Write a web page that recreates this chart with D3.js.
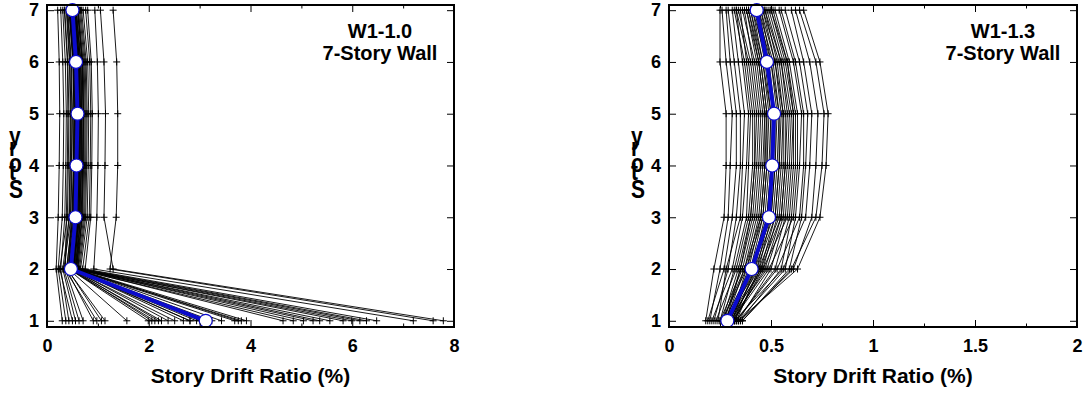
<!DOCTYPE html>
<html>
<head>
<meta charset="utf-8">
<script src="https://cdn.jsdelivr.net/npm/d3@7"></script>
<style>
  body { margin: 0; background: #fff; }
  text { font-family: "Liberation Sans", Arial, sans-serif; font-weight: bold; }
</style>
</head>
<body>
<div id="container"></div>
<script>
// Dimensions
const width = 1086,
  height = 393;

// Story levels (1 = ground story)
const stories = [1, 2, 3, 4, 5, 6, 7];

// W1-1.0 records: drift ratio (%) per story [s1..s7]
const leftRecords = [
  [0.30, 0.18, 0.22, 0.24, 0.25, 0.24, 0.21],
  [0.37, 0.22, 0.30, 0.32, 0.33, 0.31, 0.27],
  [0.43, 0.27, 0.35, 0.37, 0.38, 0.36, 0.31],
  [0.50, 0.25, 0.40, 0.42, 0.43, 0.41, 0.35],
  [0.56, 0.31, 0.44, 0.46, 0.47, 0.45, 0.39],
  [0.63, 0.33, 0.47, 0.49, 0.50, 0.48, 0.41],
  [0.71, 0.36, 0.38, 0.40, 0.41, 0.40, 0.34],
  [0.91, 0.38, 0.51, 0.53, 0.54, 0.52, 0.44],
  [0.98, 0.35, 0.43, 0.45, 0.46, 0.44, 0.38],
  [1.07, 0.40, 0.53, 0.55, 0.56, 0.54, 0.46],
  [1.14, 0.39, 0.49, 0.52, 0.53, 0.51, 0.43],
  [1.57, 0.42, 0.55, 0.57, 0.58, 0.56, 0.48],
  [1.99, 0.44, 0.46, 0.48, 0.49, 0.47, 0.40],
  [2.06, 0.46, 0.57, 0.59, 0.60, 0.58, 0.50],
  [2.12, 0.43, 0.50, 0.52, 0.53, 0.51, 0.44],
  [2.19, 0.48, 0.59, 0.61, 0.62, 0.60, 0.52],
  [2.25, 0.45, 0.53, 0.55, 0.56, 0.54, 0.46],
  [2.38, 0.49, 0.60, 0.62, 0.63, 0.61, 0.53],
  [2.51, 0.47, 0.54, 0.56, 0.57, 0.55, 0.47],
  [2.68, 0.51, 0.62, 0.64, 0.65, 0.63, 0.55],
  [2.81, 0.48, 0.52, 0.54, 0.55, 0.53, 0.45],
  [2.81, 0.52, 0.63, 0.65, 0.66, 0.64, 0.56],
  [2.94, 0.50, 0.56, 0.58, 0.59, 0.57, 0.49],
  [3.01, 0.53, 0.64, 0.67, 0.68, 0.66, 0.57],
  [3.24, 0.51, 0.58, 0.60, 0.61, 0.59, 0.51],
  [3.43, 0.55, 0.66, 0.68, 0.69, 0.67, 0.58],
  [3.69, 0.52, 0.57, 0.59, 0.60, 0.58, 0.50],
  [3.76, 0.56, 0.67, 0.70, 0.71, 0.69, 0.60],
  [3.82, 0.53, 0.60, 0.62, 0.63, 0.61, 0.53],
  [3.92, 0.57, 0.69, 0.71, 0.72, 0.70, 0.61],
  [4.64, 0.58, 0.70, 0.72, 0.73, 0.71, 0.62],
  [4.84, 0.55, 0.61, 0.63, 0.64, 0.62, 0.54],
  [5.04, 0.60, 0.72, 0.74, 0.75, 0.73, 0.64],
  [5.23, 0.57, 0.63, 0.65, 0.66, 0.64, 0.55],
  [5.36, 0.62, 0.74, 0.76, 0.77, 0.75, 0.66],
  [5.56, 0.59, 0.65, 0.67, 0.68, 0.66, 0.57],
  [5.82, 0.64, 0.76, 0.78, 0.79, 0.77, 0.68],
  [5.99, 0.61, 0.68, 0.70, 0.71, 0.69, 0.60],
  [6.15, 0.66, 0.79, 0.81, 0.82, 0.80, 0.71],
  [6.28, 0.70, 0.83, 0.85, 0.86, 0.84, 0.76],
  [6.48, 0.75, 0.86, 0.88, 0.89, 0.87, 0.80],
  [7.20, 0.92, 0.98, 1.00, 1.01, 0.99, 0.94],
  [7.59, 1.24, 1.36, 1.39, 1.39, 1.37, 1.30],
  [7.79, 1.30, 1.12, 1.14, 1.15, 1.12, 1.05]
];
const leftMean = [3.12, 0.47, 0.56, 0.58, 0.60, 0.57, 0.50];

// W1-1.3 records
const rightRecords = [
  [0.18, 0.22, 0.27, 0.28, 0.28, 0.25, 0.25],
  [0.20, 0.25, 0.29, 0.30, 0.31, 0.28, 0.26],
  [0.19, 0.27, 0.31, 0.33, 0.33, 0.30, 0.28],
  [0.22, 0.29, 0.33, 0.35, 0.35, 0.32, 0.29],
  [0.24, 0.28, 0.35, 0.36, 0.37, 0.34, 0.31],
  [0.21, 0.31, 0.36, 0.38, 0.39, 0.36, 0.33],
  [0.25, 0.32, 0.38, 0.39, 0.40, 0.37, 0.32],
  [0.23, 0.33, 0.39, 0.41, 0.41, 0.38, 0.35],
  [0.26, 0.34, 0.40, 0.42, 0.43, 0.40, 0.34],
  [0.27, 0.35, 0.41, 0.43, 0.44, 0.41, 0.37],
  [0.25, 0.36, 0.42, 0.44, 0.45, 0.42, 0.36],
  [0.28, 0.37, 0.43, 0.45, 0.46, 0.43, 0.38],
  [0.26, 0.38, 0.44, 0.46, 0.47, 0.44, 0.39],
  [0.29, 0.39, 0.45, 0.47, 0.47, 0.44, 0.38],
  [0.27, 0.40, 0.46, 0.48, 0.48, 0.45, 0.40],
  [0.30, 0.38, 0.46, 0.48, 0.49, 0.46, 0.41],
  [0.28, 0.41, 0.47, 0.49, 0.50, 0.46, 0.40],
  [0.29, 0.42, 0.48, 0.50, 0.50, 0.47, 0.42],
  [0.31, 0.40, 0.48, 0.50, 0.51, 0.48, 0.43],
  [0.28, 0.43, 0.49, 0.51, 0.52, 0.48, 0.41],
  [0.30, 0.41, 0.50, 0.52, 0.52, 0.49, 0.44],
  [0.29, 0.44, 0.50, 0.52, 0.53, 0.50, 0.43],
  [0.32, 0.42, 0.51, 0.53, 0.54, 0.50, 0.45],
  [0.30, 0.45, 0.52, 0.54, 0.54, 0.51, 0.44],
  [0.31, 0.43, 0.52, 0.54, 0.55, 0.52, 0.46],
  [0.29, 0.46, 0.53, 0.55, 0.56, 0.52, 0.45],
  [0.33, 0.44, 0.54, 0.56, 0.56, 0.53, 0.47],
  [0.31, 0.47, 0.55, 0.57, 0.57, 0.54, 0.46],
  [0.32, 0.45, 0.55, 0.57, 0.58, 0.55, 0.48],
  [0.30, 0.48, 0.56, 0.58, 0.59, 0.55, 0.47],
  [0.34, 0.50, 0.57, 0.59, 0.60, 0.56, 0.49],
  [0.32, 0.46, 0.58, 0.60, 0.61, 0.57, 0.50],
  [0.33, 0.52, 0.59, 0.61, 0.61, 0.58, 0.51],
  [0.35, 0.55, 0.60, 0.62, 0.62, 0.58, 0.50],
  [0.31, 0.49, 0.61, 0.63, 0.63, 0.59, 0.52],
  [0.34, 0.57, 0.62, 0.64, 0.65, 0.61, 0.54],
  [0.33, 0.53, 0.64, 0.66, 0.66, 0.62, 0.55],
  [0.36, 0.59, 0.65, 0.67, 0.68, 0.64, 0.57],
  [0.32, 0.56, 0.67, 0.69, 0.70, 0.66, 0.60],
  [0.35, 0.61, 0.70, 0.72, 0.73, 0.69, 0.62],
  [0.34, 0.63, 0.74, 0.77, 0.78, 0.74, 0.66],
  [0.36, 0.60, 0.72, 0.75, 0.76, 0.72, 0.64],
  [0.28, 0.35, 0.40, 0.42, 0.42, 0.39, 0.33],
  [0.26, 0.37, 0.45, 0.47, 0.48, 0.45, 0.39]
];
const rightMean = [0.286, 0.405, 0.49, 0.506, 0.515, 0.48, 0.43];

// Tick values
const leftXTicks = [0, 2, 4, 6, 8];
const leftXMinor = [1, 3, 5, 7];
const rightXTicks = [0, 0.5, 1, 1.5, 2];
const rightXMinor = [0.25, 0.75, 1.25, 1.75];

// Labels
const xTitle = "Story Drift Ratio (%)";
const yTitle = "Story";
const leftLabel = ["W1-1.0", "7-Story Wall"];
const rightLabel = ["W1-1.3", "7-Story Wall"];

const blue = "#0b0bcc";
const plotTop = 5, plotBottom = 327;

const svg = d3.select("#container")
  .append("svg")
  .attr("width", width)
  .attr("height", height);

drawPanel({ x0: 47, x1: 454, xMax: 8, ticks: leftXTicks, minor: leftXMinor,
  records: leftRecords, mean: leftMean, label: leftLabel });
drawPanel({ x0: 669, x1: 1077, xMax: 2, ticks: rightXTicks, minor: rightXMinor,
  records: rightRecords, mean: rightMean, label: rightLabel });

function drawPanel(p) {
  const g = svg.append("g");

  const x = d3.scaleLinear().domain([0, p.xMax]).range([p.x0, p.x1]);
  const y = d3.scaleLinear().domain([0.88, 7.1]).range([plotBottom, plotTop]);

  const line = d3.line()
    .x(d => x(d[0]))
    .y(d => y(d[1]));

  // individual records
  const recs = p.records.map(r => r.map((v, i) => [v, stories[i]]));
  g.selectAll(".rec")
    .data(recs)
    .join("path")
    .attr("class", "rec")
    .attr("d", line)
    .attr("fill", "none")
    .attr("stroke", "#000")
    .attr("stroke-width", 0.9);

  // "+" markers at every story
  const pts = recs.flat();
  const m = 3.5;
  g.selectAll(".plus")
    .data(pts)
    .join("path")
    .attr("class", "plus")
    .attr("d", d => {
      const px = x(d[0]), py = y(d[1]);
      return `M${px - m},${py}H${px + m}M${px},${py - m}V${py + m}`;
    })
    .attr("stroke", "#000")
    .attr("stroke-width", 1);

  // mean line
  const meanPts = p.mean.map((v, i) => [v, stories[i]]);
  g.append("path")
    .datum(meanPts)
    .attr("d", line)
    .attr("fill", "none")
    .attr("stroke", blue)
    .attr("stroke-width", 4);

  g.selectAll(".dot")
    .data(meanPts)
    .join("circle")
    .attr("class", "dot")
    .attr("cx", d => x(d[0]))
    .attr("cy", d => y(d[1]))
    .attr("r", 6.5)
    .attr("fill", "#fff")
    .attr("stroke", blue)
    .attr("stroke-width", 1.2);

  // axes (ticks point inward)
  const fmt = d3.format("~g");
  g.append("g").attr("transform", `translate(0,${plotBottom})`)
    .call(d3.axisBottom(x).tickValues(p.ticks).tickSize(-7).tickPadding(12).tickFormat(fmt));
  g.append("g").attr("transform", `translate(0,${plotBottom})`)
    .call(d3.axisBottom(x).tickValues(p.minor).tickSize(-3.5).tickFormat(""));
  g.append("g").attr("transform", `translate(0,${plotTop})`)
    .call(d3.axisTop(x).tickValues(p.ticks).tickSize(-7).tickFormat(""));
  g.append("g").attr("transform", `translate(0,${plotTop})`)
    .call(d3.axisTop(x).tickValues(p.minor).tickSize(-3.5).tickFormat(""));
  g.append("g").attr("transform", `translate(${p.x0},0)`)
    .call(d3.axisLeft(y).tickValues(stories).tickSize(-7).tickPadding(8).tickFormat(fmt));
  g.append("g").attr("transform", `translate(${p.x1},0)`)
    .call(d3.axisRight(y).tickValues(stories).tickSize(-7).tickFormat(""));

  g.selectAll(".domain").remove();
  g.selectAll(".tick line").attr("stroke", "#000").attr("stroke-width", 1);
  g.selectAll(".tick text")
    .attr("fill", "#000")
    .style("font-size", "18px")
    .style("font-family", "'Liberation Sans', Arial, sans-serif")
    .style("font-weight", "bold");

  // frame
  g.append("rect")
    .attr("x", p.x0)
    .attr("y", plotTop)
    .attr("width", p.x1 - p.x0)
    .attr("height", plotBottom - plotTop)
    .attr("fill", "none")
    .attr("stroke", "#000")
    .attr("stroke-width", 2);

  // axis titles
  g.append("text")
    .attr("x", (p.x0 + p.x1) / 2)
    .attr("y", 383)
    .attr("text-anchor", "middle")
    .style("font-size", "21px")
    .text(xTitle);

  // vertical title with upright glyphs
  g.append("text")
    .attr("transform", `translate(${p.x0 - 38},198) scale(1,1.25) rotate(-90)`)
    .attr("rotate", "90")
    .style("font-size", "21px")
    .text(yTitle);

  // case label
  g.selectAll(".lab")
    .data(p.label)
    .join("text")
    .attr("class", "lab")
    .attr("x", p.x1 - 74)
    .attr("y", (d, i) => 38 + i * 22)
    .attr("text-anchor", "middle")
    .style("font-size", "20px")
    .text(d => d);
}
</script>
</body>
</html>
